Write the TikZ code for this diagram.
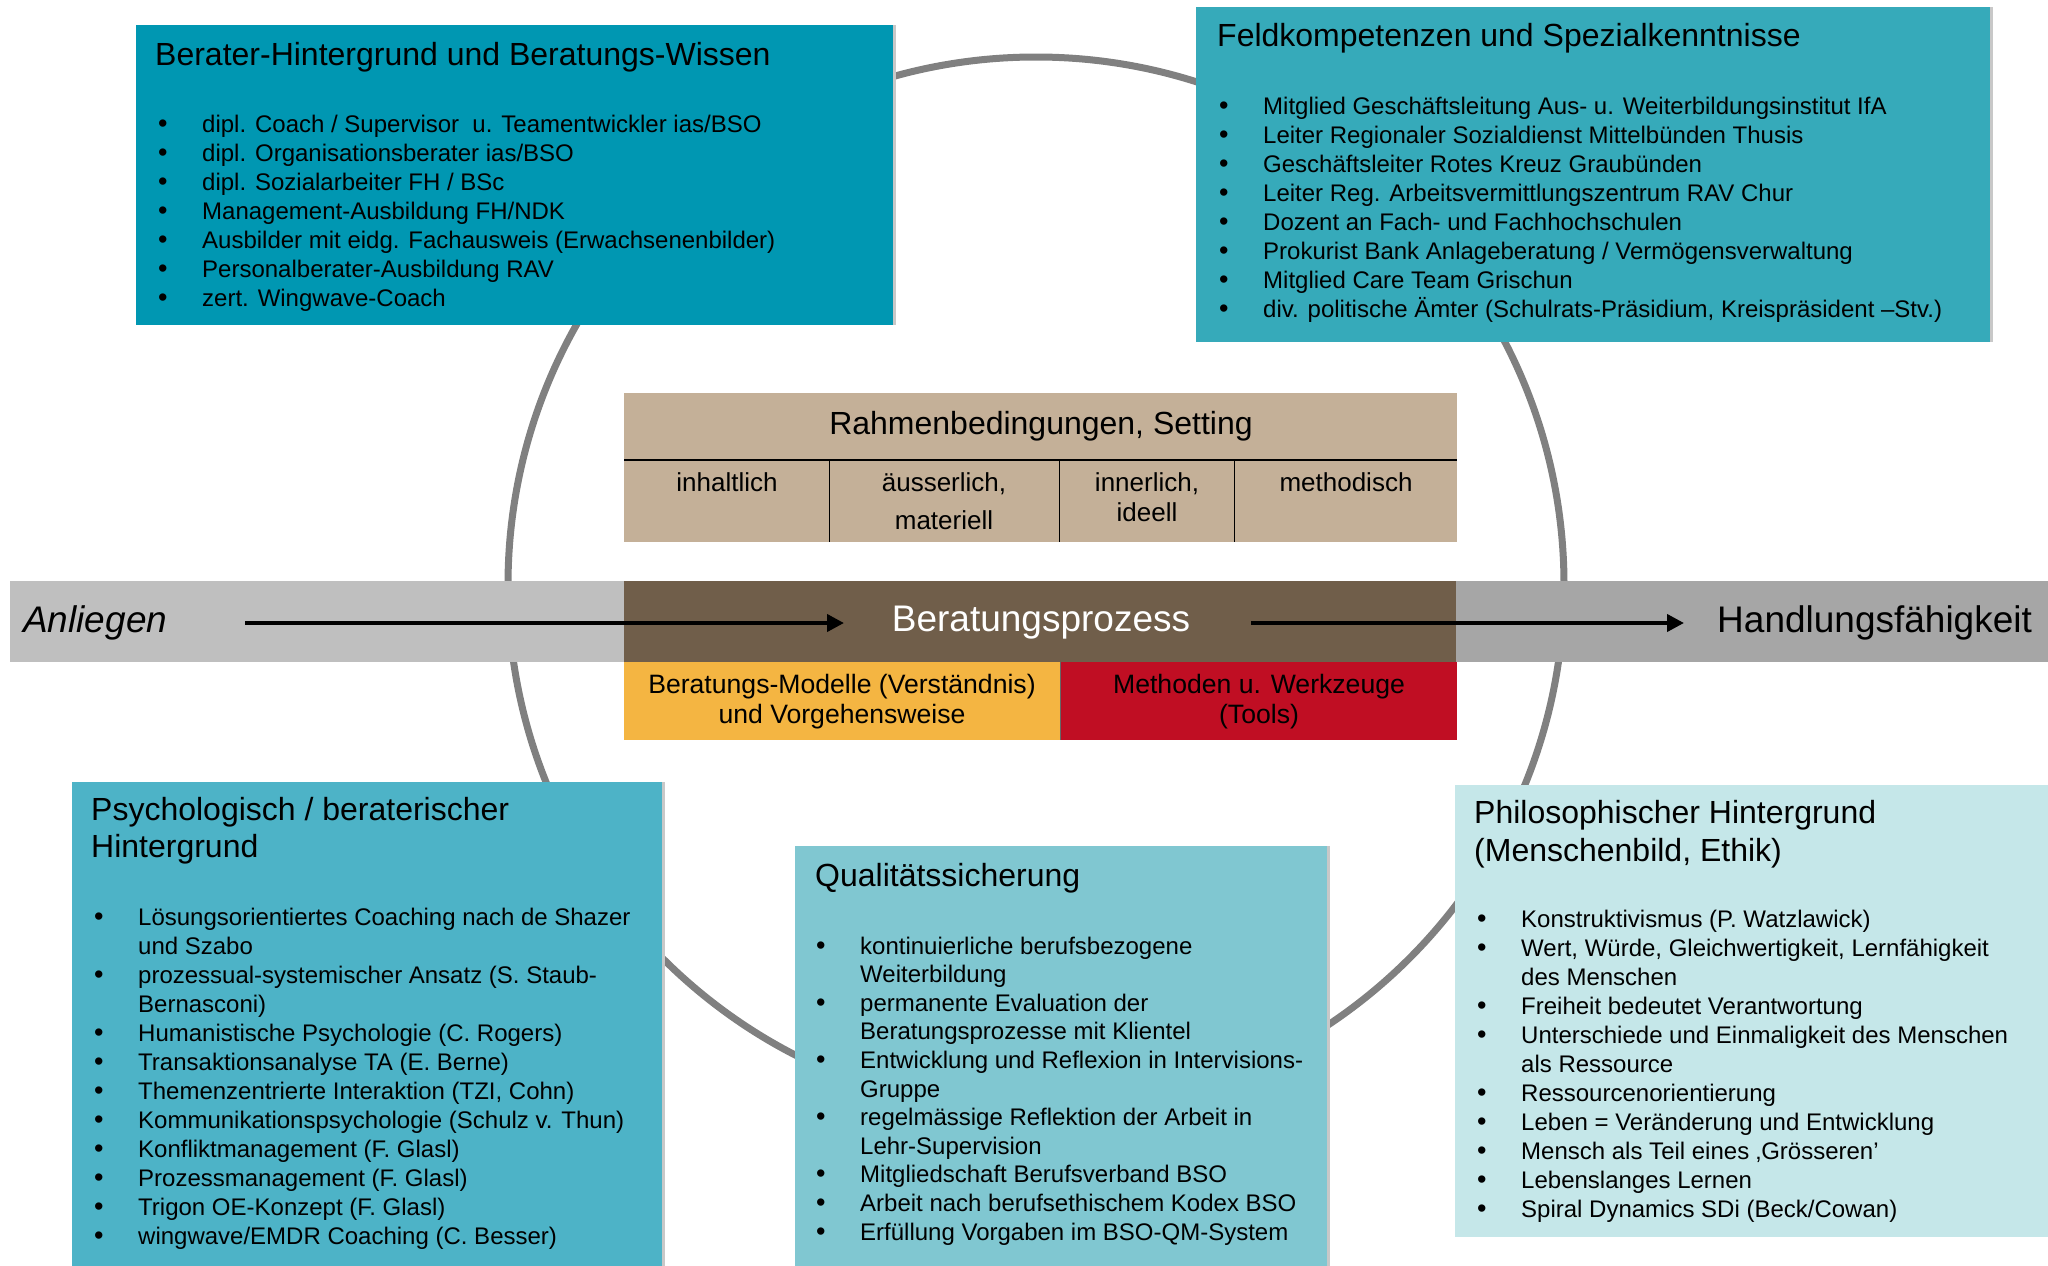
\documentclass[tikz,border=0pt]{standalone}
\usepackage{fontspec}
\setmainfont{Liberation Sans}
\usetikzlibrary{arrows.meta}
\definecolor{cBerater}{RGB}{0,151,178}
\definecolor{cFeld}{RGB}{54,170,186}
\definecolor{cPsych}{RGB}{77,179,199}
\definecolor{cQual}{RGB}{128,199,209}
\definecolor{cPhil}{RGB}{197,231,233}
\definecolor{cTan}{RGB}{196,176,152}
\definecolor{cBrown}{RGB}{112,94,74}
\definecolor{cOrange}{RGB}{244,181,66}
\definecolor{cRed}{RGB}{192,14,35}
\definecolor{cBarL}{RGB}{191,191,191}
\definecolor{cBarR}{RGB}{166,166,166}
\definecolor{cRing}{RGB}{128,128,128}
\definecolor{cShadow}{RGB}{200,200,200}
\newcommand\fsz[2]{\fontsize{#1}{#2}\selectfont}
\newcommand\bul{\hspace*{-3pt}{\fontsize{27}{29}\selectfont\textbullet}}
\newenvironment{blist}{\begin{tabular}[t]{@{}p{41pt}@{}l@{}}}{\end{tabular}}
\begin{document}
\begin{tikzpicture}[x=1pt,y=-1pt,
  panel/.style={fill=#1, draw=none},
  boxtitle/.style={anchor=base west, inner sep=0pt, align=left, font=\fsz{32}{37}},
  itemlist/.style={anchor=base west, inner sep=0pt, font=\fsz{24}{29}},
  coltext/.style={anchor=base, inner sep=0pt, align=center, font=\fsz{26}{30}},
  bartext/.style={anchor=base west, inner sep=0pt, font=\fsz{37}{40}},
  flowarrow/.style={line width=4pt, -{Triangle[length=17pt,width=17pt]}},
  shadowline/.style={cShadow, line width=3pt}
]
\useasboundingbox (0,0) rectangle (2048,1266);
\fill[white] (0,0) rectangle (2048,1266);

% ring
\draw[cRing, line width=7pt] (1036,585) circle[radius=528pt];

% Berater box
\fill[panel=cBerater] (136,25) rectangle (893,325);
\draw[shadowline] (894.5,25) -- (894.5,325);
\node[boxtitle] (bt) at (155,65) {Berater-Hintergrund und Beratungs-Wissen};
\node[itemlist] (bl) at (161,132) {\begin{blist}
\bul & dipl. Coach / Supervisor \ u. Teamentwickler ias/BSO\\
\bul & dipl. Organisationsberater ias/BSO\\
\bul & dipl. Sozialarbeiter FH / BSc\\
\bul & Management-Ausbildung FH/NDK\\
\bul & Ausbilder mit eidg. Fachausweis (Erwachsenenbilder)\\
\bul & Personalberater-Ausbildung RAV\\
\bul & zert. Wingwave-Coach
\end{blist}};

% Feld box
\fill[panel=cFeld] (1196,7) rectangle (1990,342);
\draw[shadowline] (1991.5,7) -- (1991.5,342);
\node[boxtitle] (ft) at (1217,46) {Feldkompetenzen und Spezialkenntnisse};
\node[itemlist] (fl) at (1222,114) {\begin{blist}
\bul & Mitglied Geschäftsleitung Aus- u. Weiterbildungsinstitut IfA\\
\bul & Leiter Regionaler Sozialdienst Mittelbünden Thusis\\
\bul & Geschäftsleiter Rotes Kreuz Graubünden\\
\bul & Leiter Reg. Arbeitsvermittlungszentrum RAV Chur\\
\bul & Dozent an Fach- und Fachhochschulen\\
\bul & Prokurist Bank Anlageberatung / Vermögensverwaltung\\
\bul & Mitglied Care Team Grischun\\
\bul & div. politische Ämter (Schulrats-Präsidium, Kreispräsident –Stv.)
\end{blist}};

% Rahmenbedingungen table
\fill[panel=cTan] (624,393) rectangle (1457,542);
\draw[black, line width=1.5pt] (624,460) -- (1457,460);
\draw[black, line width=1pt] (829,460) -- (829,542);
\draw[black, line width=1pt] (1059,460) -- (1059,542);
\draw[black, line width=1pt] (1234,460) -- (1234,542);
\node[anchor=base, inner sep=0pt, font=\fsz{32}{37}] (rh) at (1041,434) {Rahmenbedingungen, Setting};
\node[coltext] (c1) at (727,491) {inhaltlich};
\node[coltext, font=\fsz{26}{38}] (c2) at (944,529) {äusserlich,\\materiell};
\node[coltext, font=\fsz{26}{30}] (c3) at (1147,521) {innerlich,\\ideell};
\node[coltext] (c4) at (1346,491) {methodisch};

% process bar
\fill[cBarL] (10,581) rectangle (624,662);
\fill[cBrown] (624,581) rectangle (1456,662);
\fill[cBarR] (1456,581) rectangle (2048,662);
\node[bartext, font=\fsz{37}{40}\itshape] (anl) at (23,632) {Anliegen};
\node[anchor=base, inner sep=0pt, font=\fsz{37}{40}, text=white] (ber) at (1041,631) {Beratungsprozess};
\node[bartext] (hf) at (1717,632) {Handlungsfähigkeit};
\coordinate (a1s) at (245,623);
\coordinate (a1e) at (844,623);
\coordinate (a2s) at (1251,623);
\coordinate (a2e) at (1684,623);
\draw[flowarrow] (a1s) -- (a1e);
\draw[flowarrow] (a2s) -- (a2e);

% orange / red boxes
\fill[cOrange] (624,662) rectangle (1060,740);
\fill[cRed] (1060,662) rectangle (1457,740);
\draw[black!60, line width=1pt] (1060,662) -- (1060,740);
\node[coltext, font=\fsz{26.6}{30}] (om) at (842,723) {Beratungs-Modelle (Verständnis)\\und Vorgehensweise};
\node[coltext, font=\fsz{26.6}{30}] (rm) at (1259,723) {Methoden u. Werkzeuge\\(Tools)};

% Psychologisch box
\fill[panel=cPsych] (72,782) rectangle (662,1266);
\draw[shadowline] (663.5,782) -- (663.5,1266);
\node[boxtitle] (pt) at (91,857) {Psychologisch / beraterischer\\Hintergrund};
\node[itemlist] (pl) at (97,925) {\begin{blist}
\bul & Lösungsorientiertes Coaching nach de Shazer\\
 & und Szabo\\
\bul & prozessual-systemischer Ansatz (S. Staub-\\
 & Bernasconi)\\
\bul & Humanistische Psychologie (C. Rogers)\\
\bul & Transaktionsanalyse TA (E. Berne)\\
\bul & Themenzentrierte Interaktion (TZI, Cohn)\\
\bul & Kommunikationspsychologie (Schulz v. Thun)\\
\bul & Konfliktmanagement (F. Glasl)\\
\bul & Prozessmanagement (F. Glasl)\\
\bul & Trigon OE-Konzept (F. Glasl)\\
\bul & wingwave/EMDR Coaching (C. Besser)
\end{blist}};

% Qualitaet box
\fill[panel=cQual] (795,846) rectangle (1327,1266);
\draw[shadowline] (1328.5,846) -- (1328.5,1266);
\node[boxtitle] (qt) at (815,886) {Qualitätssicherung};
\node[itemlist, font=\fsz{24}{28.6}] (ql) at (819,954) {\begin{blist}
\bul & kontinuierliche berufsbezogene\\
 & Weiterbildung\\
\bul & permanente Evaluation der\\
 & Beratungsprozesse mit Klientel\\
\bul & Entwicklung und Reflexion in Intervisions-\\
 & Gruppe\\
\bul & regelmässige Reflektion der Arbeit in\\
 & Lehr-Supervision\\
\bul & Mitgliedschaft Berufsverband BSO\\
\bul & Arbeit nach berufsethischem Kodex BSO\\
\bul & Erfüllung Vorgaben im BSO-QM-System
\end{blist}};

% Philosophischer box
\fill[panel=cPhil] (1455,785) rectangle (2048,1237);
\node[boxtitle, font=\fsz{32}{38}] (ht) at (1474,861) {Philosophischer Hintergrund\\(Menschenbild, Ethik)};
\node[itemlist] (hl) at (1480,927) {\begin{blist}
\bul & Konstruktivismus (P. Watzlawick)\\
\bul & Wert, Würde, Gleichwertigkeit, Lernfähigkeit\\
 & des Menschen\\
\bul & Freiheit bedeutet Verantwortung\\
\bul & Unterschiede und Einmaligkeit des Menschen\\
 & als Ressource\\
\bul & Ressourcenorientierung\\
\bul & Leben = Veränderung und Entwicklung\\
\bul & Mensch als Teil eines ‚Grösseren’\\
\bul & Lebenslanges Lernen\\
\bul & Spiral Dynamics SDi (Beck/Cowan)
\end{blist}};
\end{tikzpicture}
\end{document}
